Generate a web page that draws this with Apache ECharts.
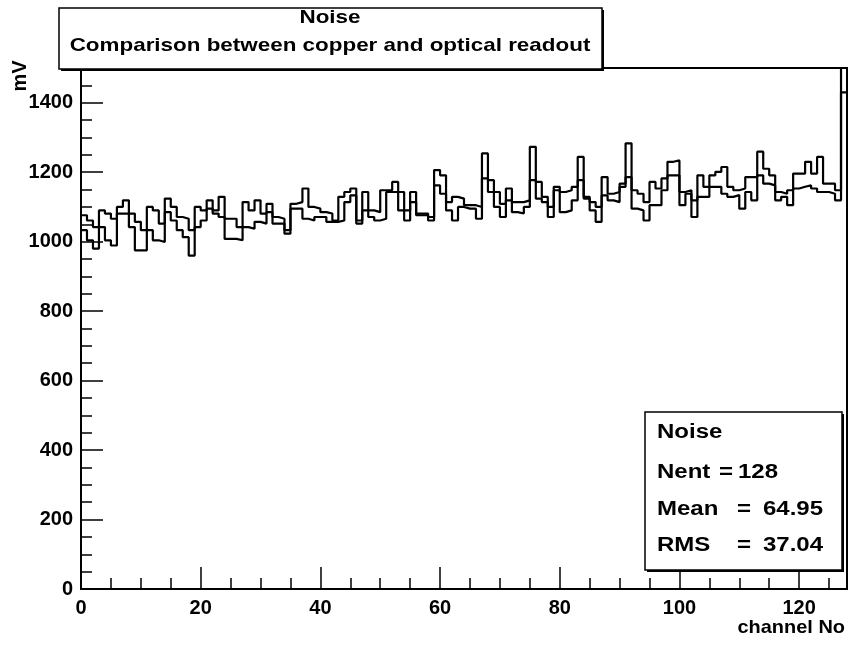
<!DOCTYPE html>
<html>
<head>
<meta charset="utf-8">
<script src="https://cdn.jsdelivr.net/npm/echarts@6/dist/echarts.min.js"></script>
<style>
html,body{margin:0;padding:0;background:#fff;}
#c{width:849px;height:645px;}
</style>
</head>
<body>
<div id="c"></div>
<script>
// Channel values (mV), channels 0..127
var copper = [
 1076,1061,1042,1090,1081,1066,1100,1119,1081,1057,
 1033,1100,1090,1052,1124,1100,1071,1066,1033,1100,
 1090,1119,1090,1129,1066,1066,1042,1114,1090,1119,
 1081,1109,1071,1066,1033,1109,1114,1153,1100,1095,
 1085,1081,1061,1129,1143,1153,1061,1143,1090,1085,
 1148,1148,1172,1143,1090,1143,1081,1081,1071,1206,
 1191,1114,1129,1124,1105,1105,1100,1254,1177,1143,
 1109,1153,1114,1114,1119,1273,1172,1129,1100,1158,
 1143,1148,1158,1244,1129,1114,1100,1186,1138,1143,
 1167,1283,1148,1138,1114,1172,1153,1182,1230,1234,
 1143,1148,1119,1191,1158,1191,1201,1215,1158,1148,
 1153,1186,1186,1259,1210,1191,1143,1138,1148,1196,
 1196,1230,1196,1244,1167,1167,1148,1520
];
var optical = [
 1033,1004,980,1042,1004,989,1081,1081,1042,975,
 975,1033,1004,999,1085,1061,1033,1013,960,1042,
 1061,1095,1081,1071,1008,1008,1004,1042,1037,1057,
 1052,1085,1052,1052,1023,1095,1095,1066,1061,1071,
 1071,1057,1057,1061,1114,1133,1052,1090,1071,1061,
 1066,1143,1143,1090,1061,1114,1076,1076,1061,1162,
 1138,1090,1061,1100,1095,1095,1066,1182,1143,1100,
 1071,1119,1085,1081,1100,1177,1124,1114,1071,1148,
 1085,1090,1119,1177,1124,1090,1057,1133,1119,1114,
 1158,1186,1095,1090,1061,1105,1105,1148,1191,1191,
 1105,1138,1071,1129,1129,1158,1158,1138,1129,1134,
 1095,1143,1119,1191,1167,1162,1119,1129,1105,1153,
 1158,1162,1153,1143,1143,1138,1119,1430
];
var nChannels = 128;
var yMax = 1500;
var titleLines = ['Noise', 'Comparison between copper and optical readout'];
var statsName = 'Noise';
var statsLabels = ['Nent', 'Mean', 'RMS'];
var statsValues = ['128', '64.95', '37.04'];
var xName = 'channel No';
var yName = 'mV';

function toSteps(vals){
  var d = vals.map(function(v,i){ return [i, v]; });
  d.push([nChannels, vals[vals.length-1]]);
  return d;
}

var FONT = '"Liberation Sans", Arial, sans-serif';
var chart = echarts.init(document.getElementById('c'), null, {renderer:'canvas'});
var labelStyle = {color:'#000', fontFamily:FONT, fontWeight:'bold', fontSize:20};

function txt(x, y, s, size, align, sx){
  return {type:'text', x:x, y:y, scaleX:sx || 1, originX:0, originY:0,
    style:{text:s, fill:'#000', font:'bold '+size+'px '+FONT, textAlign:align||'left', textVerticalAlign:'middle'}, z:102};
}

var graphics = [
  // title pave (shadow + box)
  {type:'rect', shape:{x:61, y:10, width:543, height:61}, style:{fill:'#000'}, z:100},
  {type:'rect', shape:{x:59, y:8, width:543, height:61}, style:{fill:'#fff', stroke:'#000', lineWidth:1.5}, z:101},
  txt(330, 18, titleLines[0], 19, 'center', 1.18),
  txt(330, 46, titleLines[1], 19, 'center', 1.18),
  // stats pave
  {type:'rect', shape:{x:647, y:414, width:197, height:158}, style:{fill:'#000'}, z:100},
  {type:'rect', shape:{x:645, y:412, width:197, height:158}, style:{fill:'#fff', stroke:'#000', lineWidth:1.5}, z:101},
  txt(657, 432, statsName, 20, 'left', 1.2),
  txt(657, 472, statsLabels[0], 20, 'left', 1.2),
  txt(719, 472, '=', 20, 'left', 1.2),
  txt(738, 472, statsValues[0], 20, 'left', 1.2),
  txt(657, 509, statsLabels[1], 20, 'left', 1.2),
  txt(737, 509, '=', 20, 'left', 1.2),
  txt(763, 509, statsValues[1], 20, 'left', 1.2),
  txt(657, 545, statsLabels[2], 20, 'left', 1.2),
  txt(737, 545, '=', 20, 'left', 1.2),
  txt(763, 545, statsValues[2], 20, 'left', 1.2),
  // axis titles
  txt(845, 628, xName, 19, 'right', 1.05),
  {type:'text', x:20, y:76, rotation:Math.PI/2,
   style:{text:yName, fill:'#000', font:'bold 20px '+FONT, textAlign:'center', textVerticalAlign:'middle'}, z:102}
];

var option = {
  backgroundColor:'#fff',
  animation:false,
  grid:{left:81, right:2, top:68, bottom:56, show:true, borderColor:'#000', borderWidth:2, backgroundColor:'transparent'},
  xAxis:[
    {type:'value', min:0, max:nChannels, interval:20, gridIndex:0,
     axisLine:{show:true, lineStyle:{color:'#000', width:2}},
     axisTick:{show:true, inside:true, length:22, lineStyle:{color:'#000', width:1.5}},
     axisLabel:Object.assign({margin:9, showMaxLabel:false, formatter:function(v){return String(v);}}, labelStyle),
     splitLine:{show:false}},
    {type:'value', min:0, max:nChannels, interval:5, gridIndex:0, position:'bottom',
     axisLine:{show:false},
     axisTick:{show:true, inside:true, length:11, lineStyle:{color:'#000', width:1.5}},
     axisLabel:{show:false}, splitLine:{show:false}}
  ],
  yAxis:[
    {type:'value', min:0, max:yMax, interval:200, gridIndex:0,
     axisLine:{show:true, lineStyle:{color:'#000', width:2}},
     axisTick:{show:true, inside:true, length:22, lineStyle:{color:'#000', width:1.5}},
     axisLabel:Object.assign({margin:8, showMaxLabel:false, formatter:function(v){return String(v);}}, labelStyle),
     splitLine:{show:false}},
    {type:'value', min:0, max:yMax, interval:50, gridIndex:0, position:'left',
     axisLine:{show:false},
     axisTick:{show:true, inside:true, length:11, lineStyle:{color:'#000', width:1.5}},
     axisLabel:{show:false}, splitLine:{show:false}}
  ],
  series:[
    {name:'copper', type:'line', step:'end', data:toSteps(copper), xAxisIndex:0, yAxisIndex:0,
     showSymbol:false, clip:true, lineStyle:{color:'#000', width:2.2}},
    {name:'optical', type:'line', step:'end', data:toSteps(optical), xAxisIndex:0, yAxisIndex:0,
     showSymbol:false, clip:true, lineStyle:{color:'#000', width:2.2}}
  ],
  graphic:graphics
};
chart.setOption(option);
</script>
</body>
</html>
